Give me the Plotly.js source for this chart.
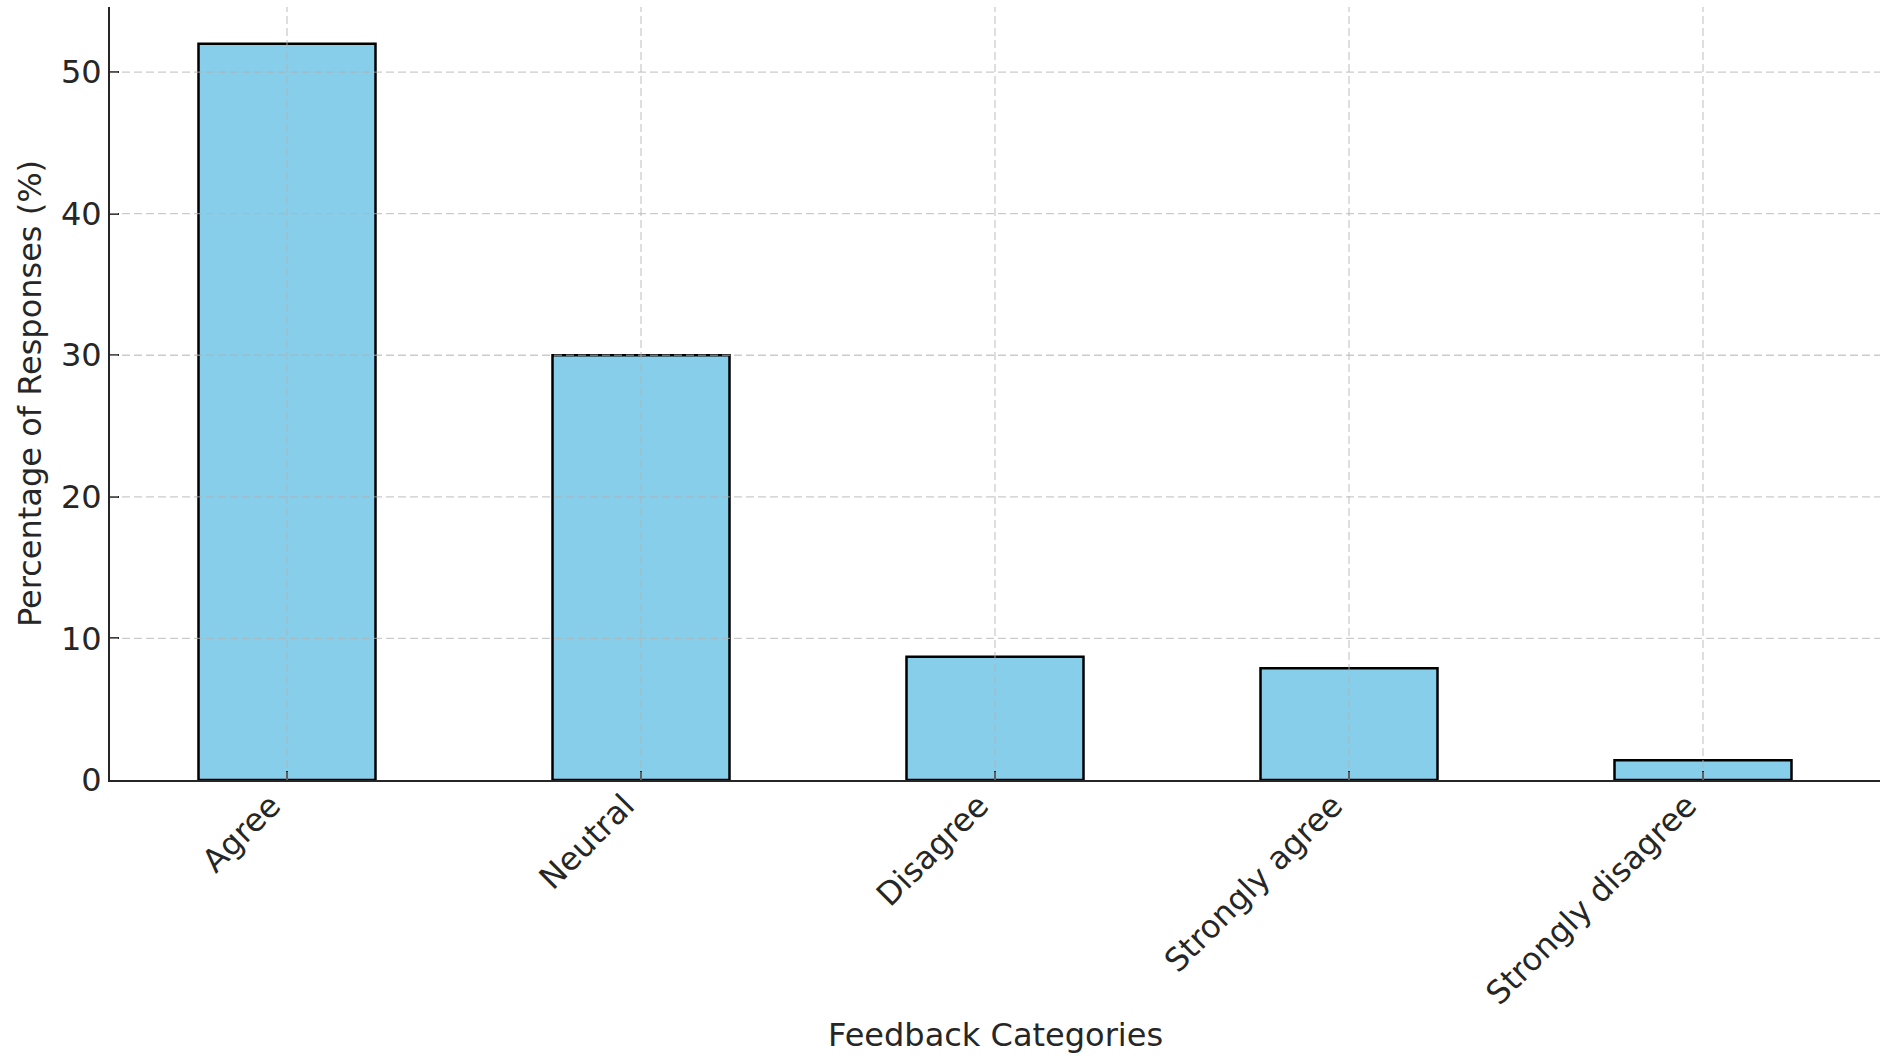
<!DOCTYPE html>
<html>
<head>
<meta charset="utf-8">
<script src="https://cdn.plot.ly/plotly-3.0.1.min.js"></script>
<style>
  html, body { margin: 0; padding: 0; background: #ffffff; }
  #chart { width: 1880px; height: 1059px; }
</style>
</head>
<body>
<div id="chart"></div>
<script>
// ---- data ----
const categories = ["Agree", "Neutral", "Disagree", "Strongly agree", "Strongly disagree"];
const percentages = [52.0, 30.0, 8.7, 7.9, 1.4];
const yTickValues = [0, 10, 20, 30, 40, 50];
const xTitle = "Feedback Categories";
const yTitle = "Percentage of Responses (%)";

// ---- styling ----
const FONT = "DejaVu Sans, sans-serif";
const TEXT = "#262626";
const GRID = "rgba(176,176,176,0.65)";
const FS = 32;

const trace = {
  type: "bar",
  x: categories,
  y: percentages,
  width: 0.5,
  marker: { color: "#87CEEB", line: { color: "#000000", width: 2.5 } },
  hoverinfo: "x+y"
};

// grid drawn above bars (as in the reference), built from the tick arrays
const shapes = [];
yTickValues.filter(v => v !== 0).forEach(v => {
  shapes.push({
    type: "line", layer: "above", xref: "x domain", yref: "y",
    x0: 0, x1: 1, y0: v, y1: v,
    line: { color: GRID, width: 1.3, dash: "8px,4px" }
  });
});
categories.forEach(c => {
  shapes.push({
    type: "line", layer: "above", xref: "x", yref: "y domain",
    x0: c, x1: c, y0: 0, y1: 1,
    line: { color: GRID, width: 1.3, dash: "8px,4px" }
  });
});

const axisCommon = {
  showgrid: false,
  zeroline: false,
  showline: true,
  linecolor: TEXT,
  linewidth: 2,
  ticks: "inside",
  ticklen: 9,
  tickwidth: 2,
  tickcolor: TEXT,
  tickfont: { family: FONT, size: FS, color: TEXT },
  automargin: false
};

const layout = {
  width: 1880,
  height: 1059,
  paper_bgcolor: "#ffffff",
  plot_bgcolor: "#ffffff",
  margin: { l: 110, r: 0, t: 7, b: 279, pad: 0 },
  showlegend: false,
  bargap: 0.5,
  xaxis: Object.assign({}, axisCommon, {
    type: "category",
    range: [-0.5, 4.5],
    tickangle: -45,
    ticklabelshift: -16,
    ticklabelstandoff: -8
  }),
  yaxis: Object.assign({}, axisCommon, {
    range: [0, 54.6],
    tickvals: yTickValues,
    ticktext: yTickValues.map(String),
    title: { text: yTitle, font: { family: FONT, size: FS, color: TEXT }, standoff: 10 }
  }),
  annotations: [{
    text: xTitle,
    xref: "paper", yref: "paper",
    x: 0.5, y: -0.33,
    xanchor: "center", yanchor: "middle",
    showarrow: false,
    font: { family: FONT, size: FS, color: TEXT }
  }],
  shapes: shapes
};

Plotly.newPlot("chart", [trace], layout, { staticPlot: true, displayModeBar: false });
</script>
</body>
</html>
